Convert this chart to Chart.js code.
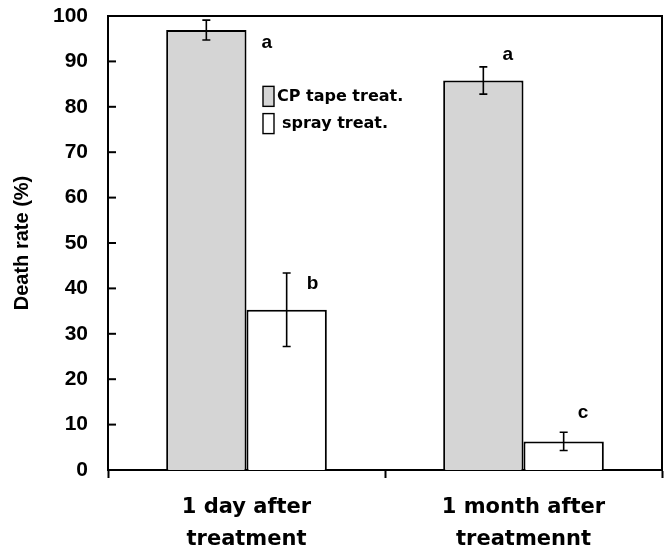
<!DOCTYPE html>
<html>
<head>
<meta charset="utf-8">
<script src="https://cdn.jsdelivr.net/npm/chart.js@4/dist/chart.umd.min.js"></script>
<style>
  body { margin: 0; background: #fff; }
  #wrap { width: 668px; height: 554px; }
</style>
</head>
<body>
<div id="wrap"><canvas id="chart"></canvas></div>
<script>
const categories = [["1 day after", "treatment"], ["1 month after", "treatmennt"]];
const seriesNames = ["CP tape treat.", "spray treat."];
const cpTape = [96.9, 85.8];
const spray = [35.3, 6.3];
const cpTapeErr = [2.2, 3.0];
const sprayErr = [8.1, 2.0];
const cpTapeLetters = ["a", "a"];
const sprayLetters = ["b", "c"];
const yTicks = [0, 10, 20, 30, 40, 50, 60, 70, 80, 90, 100];

const NUM_FONT = "'Liberation Sans', Arial, sans-serif";
const TXT_FONT = "'DejaVu Sans', sans-serif";

// error bars, letters, inward y ticks, frame and legend
const extras = {
    id: 'extras',
    afterDatasetsDraw(chart, args, opts) {
        const c = chart.ctx;
        const y = chart.scales.y;
        const area = chart.chartArea;
        const errs = [cpTapeErr, sprayErr];
        const letters = [cpTapeLetters, sprayLetters];

        c.save();
        c.strokeStyle = '#000';
        c.fillStyle = '#000';

        // frame top/right
        c.lineWidth = 2;
        c.beginPath();
        c.moveTo(area.left, area.top);
        c.lineTo(area.right, area.top);
        c.lineTo(area.right, area.bottom);
        c.stroke();

        // inward ticks
        yTicks.forEach(v => {
            if (v === 0 || v === 100) return;
            const py = y.getPixelForValue(v);
            c.beginPath();
            c.moveTo(area.left, py);
            c.lineTo(area.left + 8, py);
            c.stroke();
        });

        // error bars + letters
        chart.data.datasets.forEach((ds, di) => {
            const meta = chart.getDatasetMeta(di);
            meta.data.forEach((bar, i) => {
                const v = ds.data[i];
                const e = errs[di][i];
                const top = y.getPixelForValue(v + e);
                const bot = y.getPixelForValue(v - e);
                c.lineWidth = 1.6;
                c.beginPath();
                c.moveTo(bar.x, top); c.lineTo(bar.x, bot);
                c.moveTo(bar.x - 4, top); c.lineTo(bar.x + 4, top);
                c.moveTo(bar.x - 4, bot); c.lineTo(bar.x + 4, bot);
                c.stroke();

                const off = opts.letterOffsets[di][i];
                c.font = 'bold 19px ' + NUM_FONT;
                c.textAlign = 'left';
                c.textBaseline = 'alphabetic';
                c.fillText(letters[di][i], bar.x + bar.width / 2 + off[0], bar.y + off[1]);
            });
        });

        // legend
        const lx = 263;
        const rows = [y.getPixelForValue(82.3), y.getPixelForValue(76.3)];
        c.font = 'bold 16px ' + TXT_FONT;
        c.textBaseline = 'middle';
        chart.data.datasets.forEach((ds, di) => {
            const ry = rows[di];
            c.fillStyle = ds.backgroundColor;
            c.fillRect(lx, ry - 10, 11, 20);
            c.lineWidth = 1.4;
            c.strokeRect(lx, ry - 10, 11, 20);
            c.fillStyle = '#000';
            c.fillText(ds.label, lx + (di === 0 ? 14 : 19), ry);
        });
        c.restore();
    }
};

const ctx = document.getElementById('chart').getContext('2d');
const chart = new Chart(ctx, {
    type: 'bar',
    data: {
        labels: categories,
        datasets: [
            {
                label: seriesNames[0],
                data: cpTape,
                backgroundColor: '#d5d5d5',
                borderColor: '#000',
                borderWidth: 2,
                borderSkipped: 'bottom'
            },
            {
                label: seriesNames[1],
                data: spray,
                backgroundColor: '#ffffff',
                borderColor: '#000',
                borderWidth: 2,
                borderSkipped: 'bottom'
            }
        ]
    },
    options: {
        responsive: true,
        maintainAspectRatio: false,
        animation: false,
        layout: { padding: { top: 16, right: 6, left: 0, bottom: 0 } },
        categoryPercentage: 0.58,
        barPercentage: 1.0,
        plugins: {
            legend: { display: false },
            tooltip: { enabled: false },
            extras: {
                letterOffsets: [[[15, 18], [-21, -20]], [[-20, -21], [-26, -23]]]
            }
        },
        scales: {
            x: {
                grid: {
                    offset: true,
                    drawOnChartArea: false,
                    tickLength: 8,
                    tickWidth: 2,
                    color: '#000'
                },
                border: { display: true, color: '#000', width: 2 },
                ticks: {
                    color: '#000',
                    padding: 13,
                    font: { family: TXT_FONT, size: 21, weight: 'bold', lineHeight: 1.55 },
                    maxRotation: 0
                },
                afterFit: (s) => { s.height = 84; s.paddingLeft = 0; s.paddingRight = 0; }
            },
            y: {
                min: 0,
                max: 100,
                afterBuildTicks: (s) => { s.ticks = yTicks.map(v => ({ value: v })); },
                grid: { display: false },
                border: { display: true, color: '#000', width: 2 },
                ticks: {
                    color: '#000',
                    padding: 12,
                    font: { family: NUM_FONT, size: 21, weight: 'bold' }
                },
                title: {
                    display: true,
                    text: 'Death rate (%)',
                    color: '#000',
                    font: { family: NUM_FONT, size: 20, weight: 'bold' },
                    padding: { top: 10, bottom: 4 }
                },
                afterFit: (s) => { s.width = 108; s.paddingTop = 0; s.paddingBottom = 0; }
            }
        }
    },
    plugins: [extras]
});
</script>
</body>
</html>
